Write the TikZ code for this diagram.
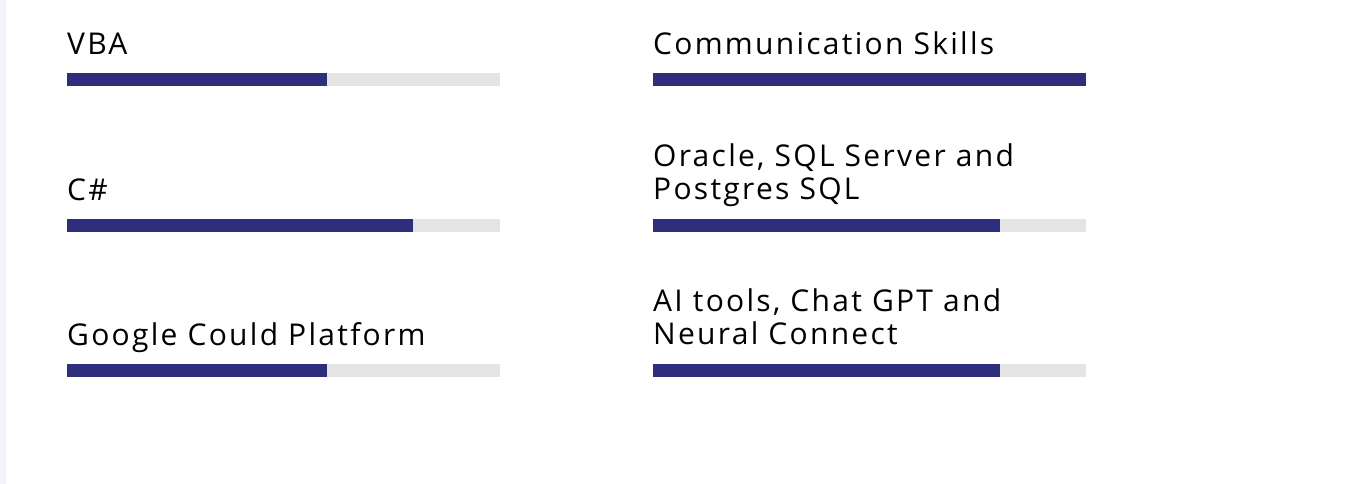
\documentclass[tikz,border=0pt]{standalone}
\usepackage{fontspec}
\setmainfont{Open Sans}[LetterSpace=7.6]
\usetikzlibrary{positioning}

\definecolor{barblue}{HTML}{2E2E7C}
\definecolor{bargray}{HTML}{E4E4E4}
\definecolor{stripe}{HTML}{F3F2F8}

\tikzset{
  skill/.style={anchor=base west, inner sep=0pt, align=left,
    font=\fontsize{30}{33}\selectfont},
}

\begin{document}
\begin{tikzpicture}[x=1pt,y=-1pt]

\useasboundingbox (0,0) rectangle (1367,484);
\fill[white] (0,0) rectangle (1367,484);
\fill[stripe] (0,0) rectangle (6,484);

% labels (base = last line)
\node[skill] (vba) at (67,55) {VBA};
\node[skill] (csharp) at (67,200) {C\#};
\node[skill] (gcp) at (67,345) {Google Could Platform};
\node[skill] (comm) at (653,55) {Communication Skills};
\node[skill] (sql) at (653,199) {Oracle, SQL Server and\\Postgres SQL};
\node[skill] (ai) at (653,344) {AI tools, Chat GPT and\\Neural Connect};

% bars: x, y, filled length
\foreach \x/\y/\len in {67/73/260, 67/219/346, 67/364/260,
                        653/73/433, 653/219/347, 653/364/347}{
  \fill[bargray] (\x,\y) rectangle ++(433,13);
  \fill[barblue] (\x,\y) rectangle ++(\len,13);
}

\end{tikzpicture}
\end{document}
